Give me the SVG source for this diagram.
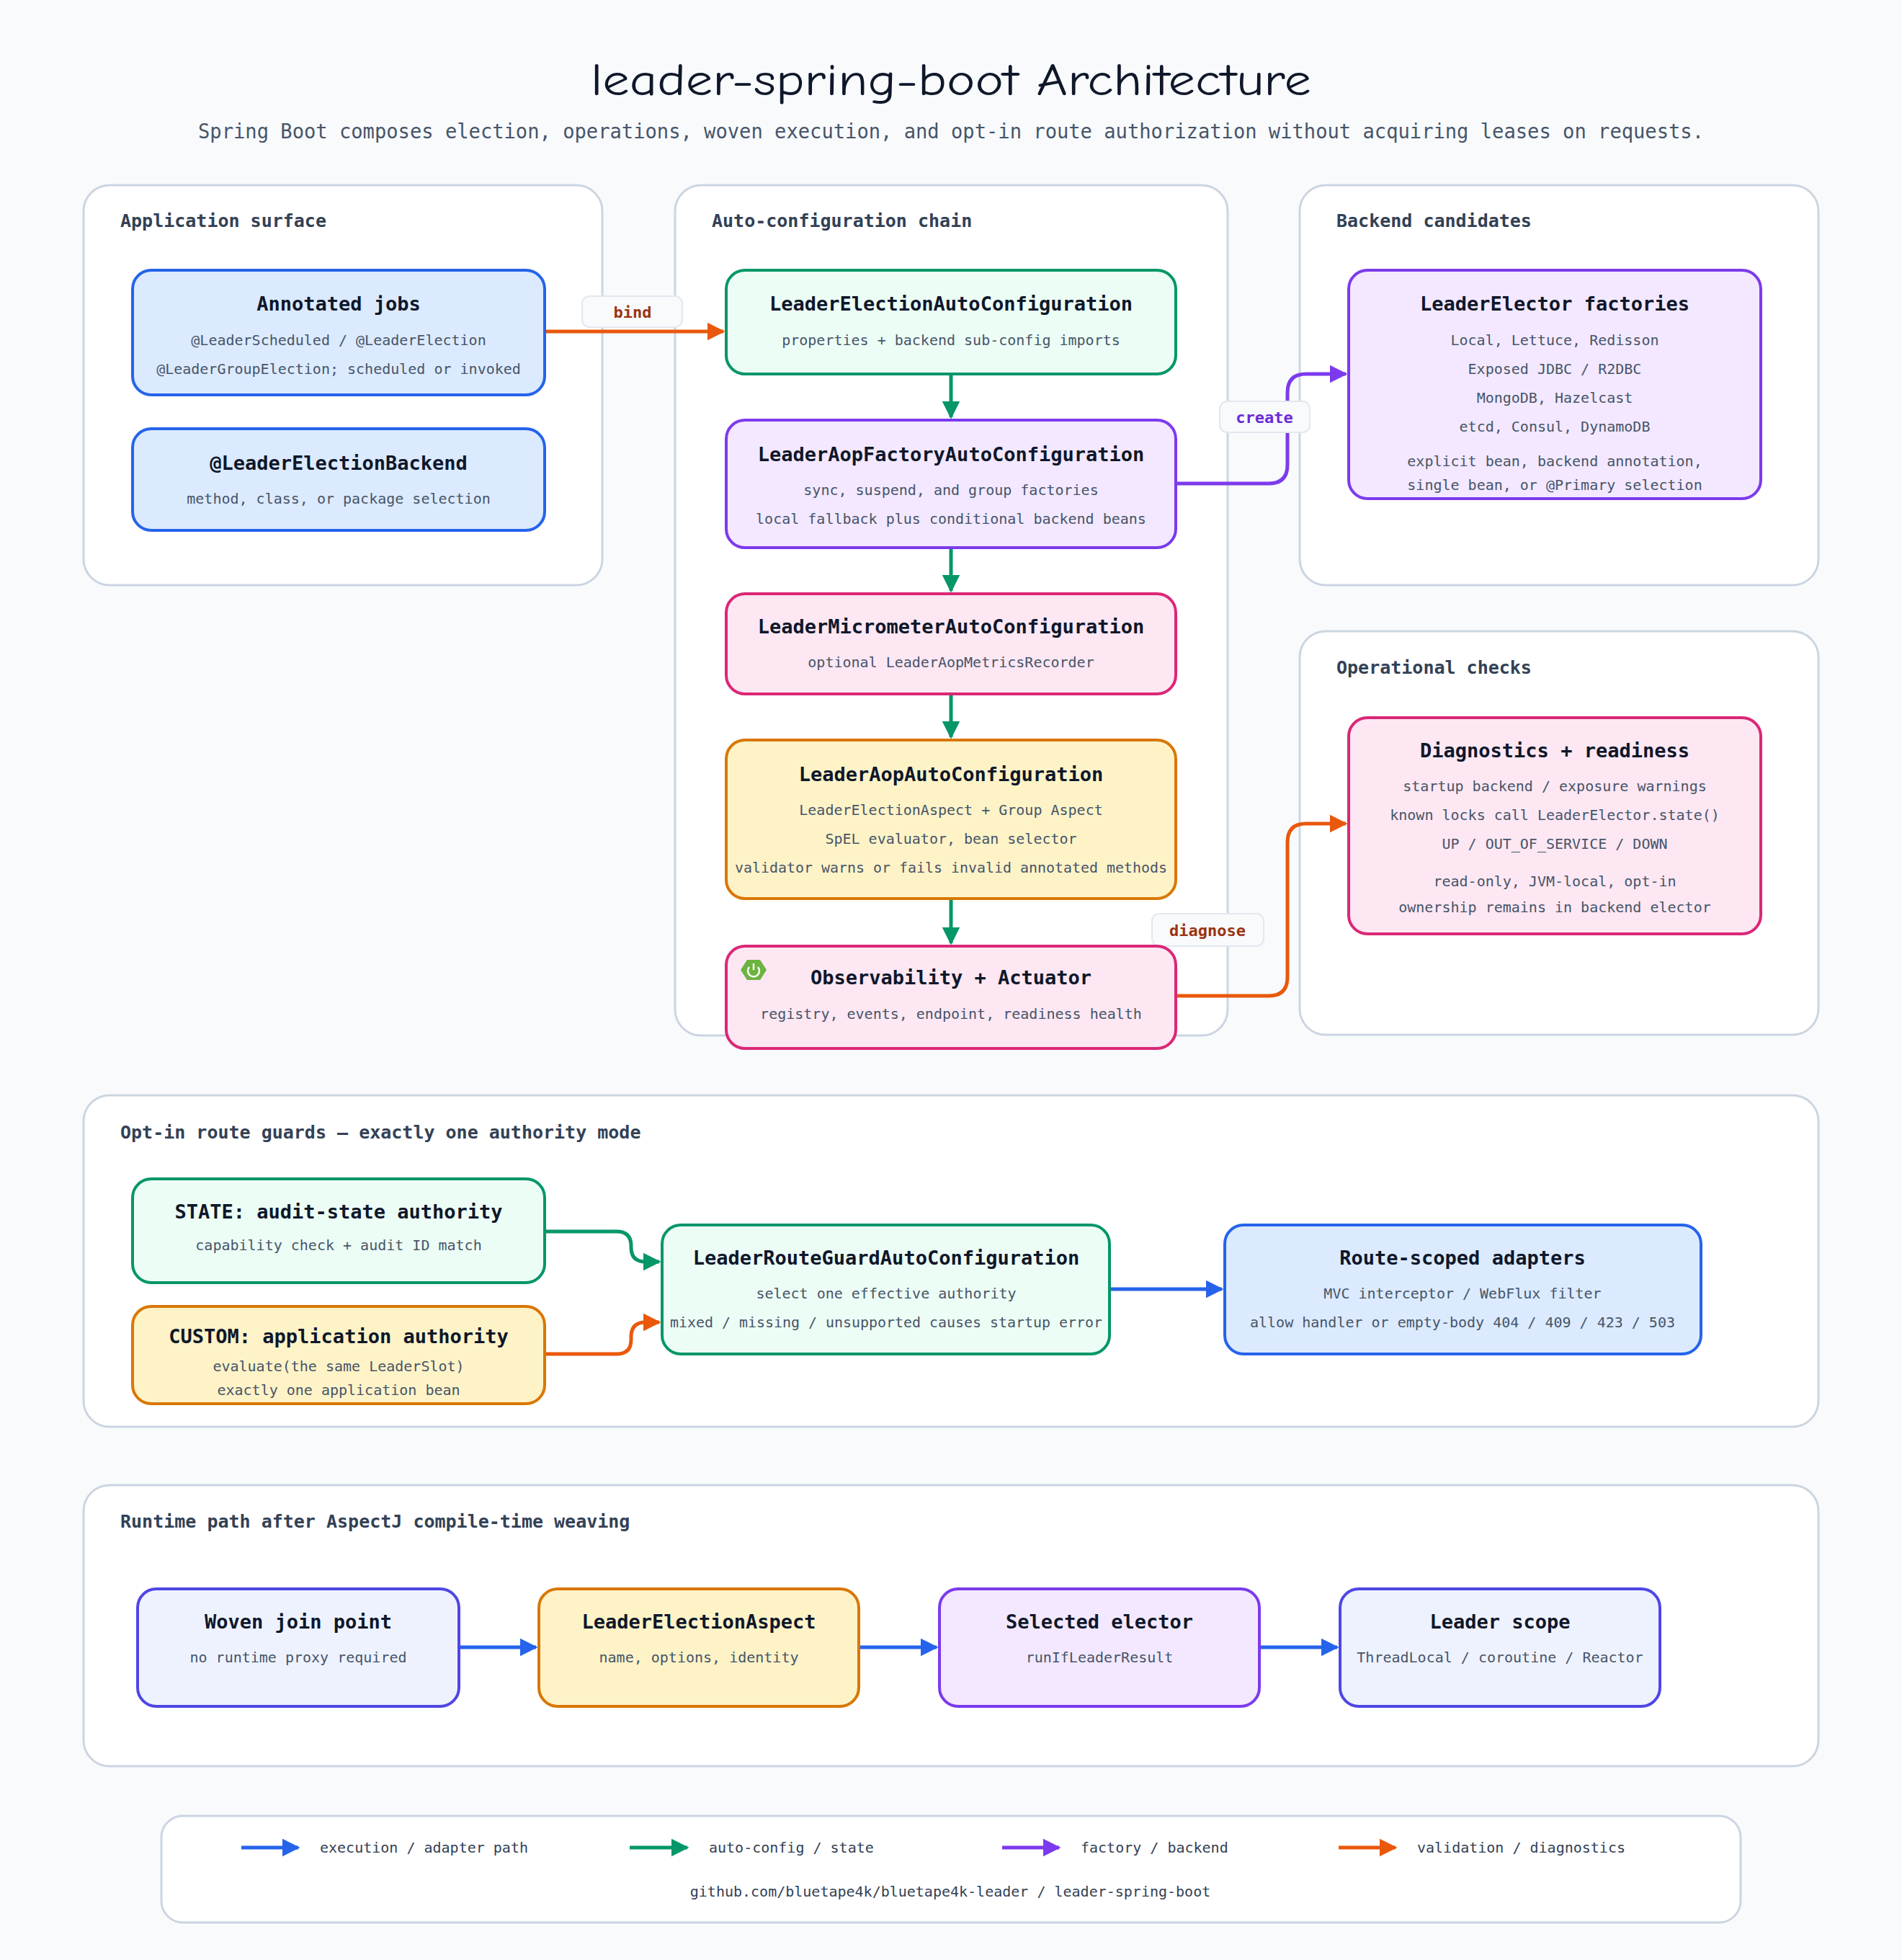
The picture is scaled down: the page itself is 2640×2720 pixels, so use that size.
<svg xmlns="http://www.w3.org/2000/svg" width="2640" height="2720" viewBox="0 0 2640 2720">
<defs>
<style>
.panel{fill:#fff;stroke:#cbd5e1;stroke-width:3}
.pl{font-family:"DejaVu Sans Mono","Liberation Mono",monospace;font-size:25px;fill:#334155;font-weight:bold}
.t{font-family:"DejaVu Sans Mono","Liberation Mono",monospace;font-size:27px;font-weight:bold;fill:#0f172a;text-anchor:middle}
.s{font-family:"DejaVu Sans Mono","Liberation Mono",monospace;font-size:20px;fill:#475569;text-anchor:middle}
.n{stroke-width:4}
.blue{fill:#dbeafe;stroke:#2563eb}
.green{fill:#ecfdf5;stroke:#059669}
.purple{fill:#f3e8ff;stroke:#7c3aed}
.pink{fill:#fce7f3;stroke:#db2777}
.amber{fill:#fef3c7;stroke:#d97706}
.indigo{fill:#eef2ff;stroke:#4f46e5}
.c{fill:none;stroke-width:5}
.lb{fill:#f8fafc;stroke:#e2e8f0;stroke-width:2}
.lt{font-family:"DejaVu Sans Mono","Liberation Mono",monospace;font-size:22px;font-weight:bold;text-anchor:middle}
.lg{font-family:"DejaVu Sans Mono","Liberation Mono",monospace;font-size:20px;fill:#334155}
</style>
<marker id="mb" viewBox="0 0 10 10" refX="9" refY="5" markerWidth="5" markerHeight="5" orient="auto" markerUnits="strokeWidth"><path d="M0,0L10,5L0,10z" fill="#2563eb"/></marker>
<marker id="mg" viewBox="0 0 10 10" refX="9" refY="5" markerWidth="5" markerHeight="5" orient="auto" markerUnits="strokeWidth"><path d="M0,0L10,5L0,10z" fill="#059669"/></marker>
<marker id="mp" viewBox="0 0 10 10" refX="9" refY="5" markerWidth="5" markerHeight="5" orient="auto" markerUnits="strokeWidth"><path d="M0,0L10,5L0,10z" fill="#7c3aed"/></marker>
<marker id="mo" viewBox="0 0 10 10" refX="9" refY="5" markerWidth="5" markerHeight="5" orient="auto" markerUnits="strokeWidth"><path d="M0,0L10,5L0,10z" fill="#ea580c"/></marker>
</defs>
<rect width="2640" height="2720" fill="#f8fafc"/>
<text x="1320" y="132" text-anchor="middle" font-family="'Comic Neue','Liberation Sans',sans-serif" font-size="62" fill="#0f172a" textLength="1000" lengthAdjust="spacingAndGlyphs">leader-spring-boot Architecture</text>
<text x="1320" y="192" text-anchor="middle" font-family="'DejaVu Sans Mono','Liberation Mono',monospace" font-size="29" fill="#475569" textLength="2090" lengthAdjust="spacingAndGlyphs">Spring Boot composes election, operations, woven execution, and opt-in route authorization without acquiring leases on requests.</text>

<g id="panels">
<rect class="panel" x="116" y="257" width="720" height="555" rx="36"/>
<text class="pl" x="167" y="315">Application surface</text>
<rect class="panel" x="937" y="257" width="767" height="1180" rx="36"/>
<text class="pl" x="988" y="315">Auto-configuration chain</text>
<rect class="panel" x="1804" y="257" width="720" height="555" rx="36"/>
<text class="pl" x="1855" y="315">Backend candidates</text>
<rect class="panel" x="1804" y="876" width="720" height="560" rx="36"/>
<text class="pl" x="1855" y="935">Operational checks</text>
<rect class="panel" x="116" y="1520" width="2408" height="460" rx="36"/>
<text class="pl" x="167" y="1580">Opt-in route guards — exactly one authority mode</text>
<rect class="panel" x="116" y="2061" width="2408" height="390" rx="36"/>
<text class="pl" x="167" y="2120">Runtime path after AspectJ compile-time weaving</text>
</g>

<g id="connectors">
<path class="c" stroke="#ea580c" d="M756 460H1004" marker-end="url(#mo)"/>
<path class="c" stroke="#059669" d="M1320 519V579" marker-end="url(#mg)"/>
<path class="c" stroke="#059669" d="M1320 760V820" marker-end="url(#mg)"/>
<path class="c" stroke="#059669" d="M1320 963V1023" marker-end="url(#mg)"/>
<path class="c" stroke="#059669" d="M1320 1247V1309" marker-end="url(#mg)"/>
<path class="c" stroke="#7c3aed" d="M1632 671H1761Q1787 671 1787 645V545Q1787 519 1813 519H1868" marker-end="url(#mp)"/>
<path class="c" stroke="#ea580c" d="M1632 1382H1761Q1787 1382 1787 1356V1169Q1787 1143 1813 1143H1868" marker-end="url(#mo)"/>
<path class="c" stroke="#059669" d="M756 1709H856Q876 1709 876 1729V1731Q876 1751 896 1751H915" marker-end="url(#mg)"/>
<path class="c" stroke="#ea580c" d="M756 1879H856Q876 1879 876 1859V1855Q876 1835 896 1835H915" marker-end="url(#mo)"/>
<path class="c" stroke="#2563eb" d="M1540 1789H1696" marker-end="url(#mb)"/>
<path class="c" stroke="#2563eb" d="M637 2286H744" marker-end="url(#mb)"/>
<path class="c" stroke="#2563eb" d="M1192 2286H1300" marker-end="url(#mb)"/>
<path class="c" stroke="#2563eb" d="M1748 2286H1856" marker-end="url(#mb)"/>
<rect class="lb" x="808" y="411" width="139" height="43" rx="10"/>
<text class="lt" x="878" y="441" fill="#9a3412">bind</text>
<rect class="lb" x="1693" y="557" width="125" height="43" rx="10"/>
<text class="lt" x="1755" y="587" fill="#6d28d9">create</text>
<rect class="lb" x="1599" y="1268" width="155" height="45" rx="10"/>
<text class="lt" x="1676" y="1299" fill="#9a3412">diagnose</text>
</g>

<g id="n-annotated"><rect class="n blue" x="184" y="375" width="572" height="173" rx="26"/>
<text class="t" x="470" y="431">Annotated jobs</text>
<text class="s" x="470" y="479">@LeaderScheduled / @LeaderElection</text>
<text class="s" x="470" y="519">@LeaderGroupElection; scheduled or invoked</text></g>
<g id="n-backend"><rect class="n blue" x="184" y="595" width="572" height="141" rx="26"/>
<text class="t" x="470" y="652">@LeaderElectionBackend</text>
<text class="s" x="470" y="699">method, class, or package selection</text></g>

<g id="n-lec"><rect class="n green" x="1008" y="375" width="624" height="144" rx="26"/>
<text class="t" x="1320" y="431">LeaderElectionAutoConfiguration</text>
<text class="s" x="1320" y="479">properties + backend sub-config imports</text></g>
<g id="n-factory"><rect class="n purple" x="1008" y="583" width="624" height="177" rx="26"/>
<text class="t" x="1320" y="640">LeaderAopFactoryAutoConfiguration</text>
<text class="s" x="1320" y="687">sync, suspend, and group factories</text>
<text class="s" x="1320" y="727">local fallback plus conditional backend beans</text></g>
<g id="n-micrometer"><rect class="n pink" x="1008" y="824" width="624" height="139" rx="26"/>
<text class="t" x="1320" y="879">LeaderMicrometerAutoConfiguration</text>
<text class="s" x="1320" y="926">optional LeaderAopMetricsRecorder</text></g>
<g id="n-aop"><rect class="n amber" x="1008" y="1027" width="624" height="220" rx="26"/>
<text class="t" x="1320" y="1084">LeaderAopAutoConfiguration</text>
<text class="s" x="1320" y="1131">LeaderElectionAspect + Group Aspect</text>
<text class="s" x="1320" y="1171">SpEL evaluator, bean selector</text>
<text class="s" x="1320" y="1211" textLength="600" lengthAdjust="spacingAndGlyphs">validator warns or fails invalid annotated methods</text></g>
<g id="n-obs"><rect class="n pink" x="1008" y="1313" width="624" height="142" rx="26"/>
<path d="M1037 1332L1055 1332L1064 1346L1055 1360L1037 1360L1028 1346Z" fill="#6db33f"/>
<path d="M1040 1342A8 8 0 1 0 1052 1342" fill="none" stroke="#fff" stroke-width="2.5"/>
<line x1="1046" y1="1337" x2="1046" y2="1346" stroke="#fff" stroke-width="2.5"/>
<text class="t" x="1320" y="1366">Observability + Actuator</text>
<text class="s" x="1320" y="1414">registry, events, endpoint, readiness health</text></g>

<g id="n-factories"><rect class="n purple" x="1872" y="375" width="572" height="317" rx="26"/>
<text class="t" x="2158" y="431">LeaderElector factories</text>
<text class="s" x="2158" y="479">Local, Lettuce, Redisson</text>
<text class="s" x="2158" y="519">Exposed JDBC / R2DBC</text>
<text class="s" x="2158" y="559">MongoDB, Hazelcast</text>
<text class="s" x="2158" y="599">etcd, Consul, DynamoDB</text>
<text class="s" x="2158" y="647">explicit bean, backend annotation,</text>
<text class="s" x="2158" y="680">single bean, or @Primary selection</text></g>
<g id="n-diag"><rect class="n pink" x="1872" y="996" width="572" height="300" rx="26"/>
<text class="t" x="2158" y="1051">Diagnostics + readiness</text>
<text class="s" x="2158" y="1098">startup backend / exposure warnings</text>
<text class="s" x="2158" y="1138">known locks call LeaderElector.state()</text>
<text class="s" x="2158" y="1178">UP / OUT_OF_SERVICE / DOWN</text>
<text class="s" x="2158" y="1230">read-only, JVM-local, opt-in</text>
<text class="s" x="2158" y="1266">ownership remains in backend elector</text></g>

<g id="n-state"><rect class="n green" x="184" y="1636" width="572" height="144" rx="26"/>
<text class="t" x="470" y="1691">STATE: audit-state authority</text>
<text class="s" x="470" y="1735">capability check + audit ID match</text></g>
<g id="n-custom"><rect class="n amber" x="184" y="1813" width="572" height="135" rx="26"/>
<text class="t" x="470" y="1864">CUSTOM: application authority</text>
<text class="s" x="470" y="1903">evaluate(the same LeaderSlot)</text>
<text class="s" x="470" y="1936">exactly one application bean</text></g>
<g id="n-guard"><rect class="n green" x="919" y="1700" width="621" height="179" rx="26"/>
<text class="t" x="1230" y="1755">LeaderRouteGuardAutoConfiguration</text>
<text class="s" x="1230" y="1802">select one effective authority</text>
<text class="s" x="1230" y="1842" textLength="600" lengthAdjust="spacingAndGlyphs">mixed / missing / unsupported causes startup error</text></g>
<g id="n-route"><rect class="n blue" x="1700" y="1700" width="661" height="179" rx="26"/>
<text class="t" x="2030" y="1755">Route-scoped adapters</text>
<text class="s" x="2030" y="1802">MVC interceptor / WebFlux filter</text>
<text class="s" x="2030" y="1842">allow handler or empty-body 404 / 409 / 423 / 503</text></g>

<g id="n-woven"><rect class="n indigo" x="191" y="2205" width="446" height="163" rx="26"/>
<text class="t" x="414" y="2260">Woven join point</text>
<text class="s" x="414" y="2307">no runtime proxy required</text></g>
<g id="n-aspect"><rect class="n amber" x="748" y="2205" width="444" height="163" rx="26"/>
<text class="t" x="970" y="2260">LeaderElectionAspect</text>
<text class="s" x="970" y="2307">name, options, identity</text></g>
<g id="n-selected"><rect class="n purple" x="1304" y="2205" width="444" height="163" rx="26"/>
<text class="t" x="1526" y="2260">Selected elector</text>
<text class="s" x="1526" y="2307">runIfLeaderResult</text></g>
<g id="n-scope"><rect class="n indigo" x="1860" y="2205" width="444" height="163" rx="26"/>
<text class="t" x="2082" y="2260">Leader scope</text>
<text class="s" x="2082" y="2307">ThreadLocal / coroutine / Reactor</text></g>

<g id="legend">
<rect class="panel" x="224" y="2520" width="2192" height="148" rx="30"/>
<path class="c" stroke="#2563eb" d="M335 2564H414" marker-end="url(#mb)"/>
<text class="lg" x="444" y="2571">execution / adapter path</text>
<path class="c" stroke="#059669" d="M874 2564H954" marker-end="url(#mg)"/>
<text class="lg" x="984" y="2571">auto-config / state</text>
<path class="c" stroke="#7c3aed" d="M1391 2564H1470" marker-end="url(#mp)"/>
<text class="lg" x="1500" y="2571">factory / backend</text>
<path class="c" stroke="#ea580c" d="M1858 2564H1937" marker-end="url(#mo)"/>
<text class="lg" x="1967" y="2571">validation / diagnostics</text>
<text class="lg" x="1319" y="2632" text-anchor="middle">github.com/bluetape4k/bluetape4k-leader / leader-spring-boot</text>
</g>
</svg>
